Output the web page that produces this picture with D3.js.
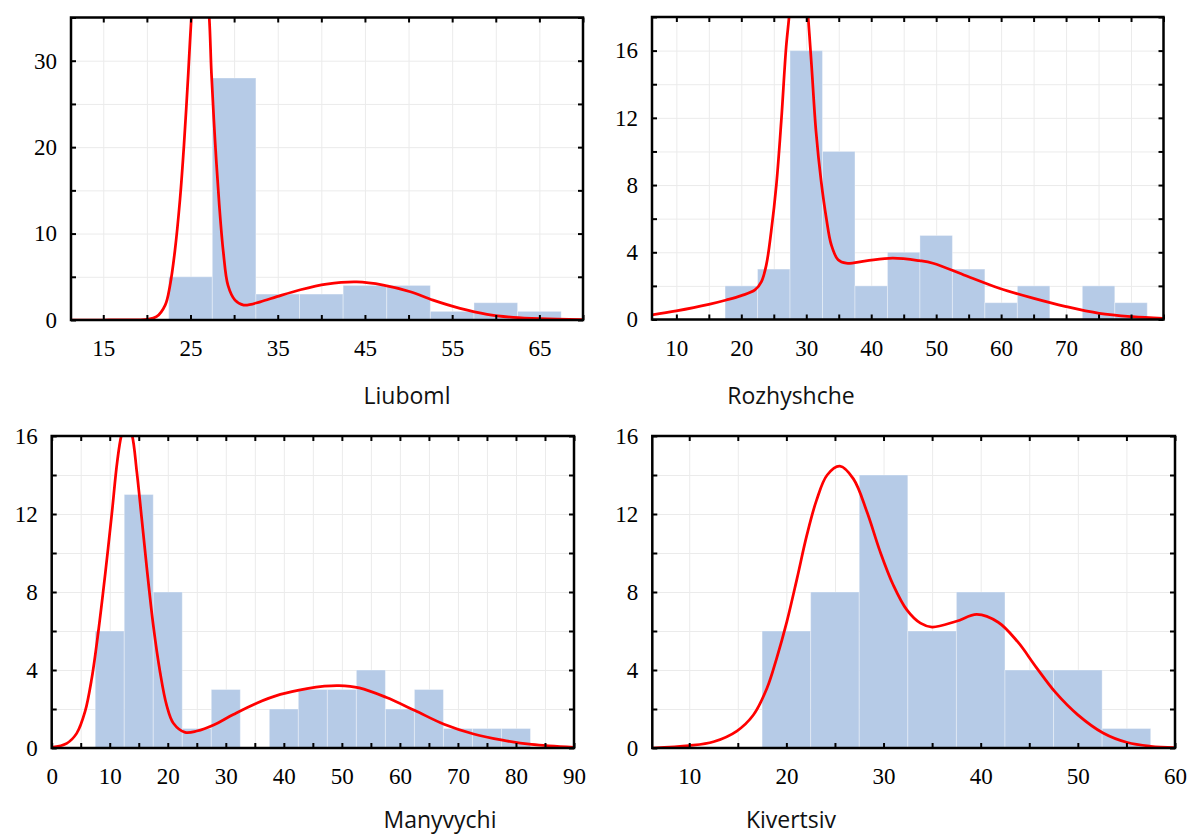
<!DOCTYPE html>
<html>
<head>
<meta charset="utf-8">
<script src="https://cdn.jsdelivr.net/npm/d3@7"></script>
<style>
  body { margin: 0; background: #fff; }
  svg { display: block; }
</style>
</head>
<body>
<div id="chart"></div>
<script>
// ---- data ----
// histogram bins (edges) and counts
const liubomlEdges = [22.5, 27.5, 32.5, 37.5, 42.5, 47.5, 52.5, 57.5, 62.5, 67.5]
const liubomlCounts = [5, 28, 3, 3, 4, 4, 1, 2, 1]
const rozhyshcheEdges = [17.5, 22.5, 27.5, 32.5, 37.5, 42.5, 47.5, 52.5, 57.5, 62.5, 67.5, 72.5, 77.5, 82.5]
const rozhyshcheCounts = [2, 3, 16, 10, 2, 4, 5, 3, 1, 2, 0, 2, 1]
const manyvychiEdges = [7.5, 12.5, 17.5, 22.5, 27.5, 32.5, 37.5, 42.5, 47.5, 52.5, 57.5, 62.5, 67.5, 72.5, 77.5, 82.5]
const manyvychiCounts = [6, 13, 8, 1, 3, 0, 2, 3, 3, 4, 2, 3, 1, 1, 1]
const kivertsivEdges = [17.5, 22.5, 27.5, 32.5, 37.5, 42.5, 47.5, 52.5, 57.5]
const kivertsivCounts = [6, 8, 14, 6, 8, 4, 4, 1]

// red density curves, [x, y] points
const liubomlCurve = [[11.3, 0], [15, 0], [19, 0.02], [20, 0.08], [21.1, 0.38], [22.1, 1.73], [22.65, 4.0],
  [23.2, 7.9], [23.8, 14], [24.25, 20.2], [24.75, 28.6], [25.1, 35], [25.6, 42], [26.1, 45], [26.6, 42],
  [27.15, 35], [27.4, 28.6], [27.8, 21], [28.3, 13.3], [28.76, 7.9], [29.3, 4.0], [30.1, 2.3], [31.1, 1.73],
  [33, 2.1], [34.9, 2.7], [37.6, 3.5], [40.6, 4.15], [44.05, 4.4], [47.1, 4.04], [50.2, 3.27], [52.8, 2.3],
  [55.9, 1.35], [59, 0.66], [62, 0.31], [65.1, 0.15], [70, 0.05]]
const rozhyshcheCurve = [[6.25, 0.27], [10, 0.51], [15, 0.9], [17.7, 1.16], [20, 1.42], [22.1, 1.76], [23.1, 2.26],
  [23.85, 3.25], [24.6, 5.24], [25.4, 8.03], [26.15, 11.8], [26.9, 16.2], [27.4, 18.2], [28, 21.5], [28.8, 23],
  [29.6, 21.5], [30.25, 18.2], [30.8, 15.2], [31.5, 11.2], [32.3, 8.2], [33.1, 6.0], [33.85, 4.45], [34.9, 3.55],
  [36.15, 3.35], [39.2, 3.49], [43.3, 3.65], [47.4, 3.5], [49.5, 3.35], [54.6, 2.6], [59.7, 1.86], [64.9, 1.27],
  [70, 0.77], [75.1, 0.37], [80.2, 0.17], [84.9, 0.07]]
const manyvychiCurve = [[0, 0.03], [2.6, 0.24], [4.3, 0.75], [5.74, 1.86], [6.9, 3.57], [8.03, 5.96], [9.2, 8.87],
  [10.34, 11.95], [11.3, 14.7], [12.07, 16.1], [12.9, 16.7], [13.8, 16.1], [14.65, 14.2], [15.5, 11.8], [16.4, 9.2],
  [17.5, 6.3], [18.67, 3.9], [19.8, 2.2], [20.97, 1.27], [23, 0.8], [25, 0.87], [27.9, 1.18], [31.3, 1.72],
  [35.3, 2.3], [39.4, 2.75], [44, 3.05], [47, 3.17], [49.5, 3.2], [53, 3.08], [57.6, 2.6], [62.6, 1.92],
  [67.6, 1.22], [72.7, 0.72], [77.7, 0.4], [82.7, 0.18], [90, 0.03]]
const kivertsivCurve = [[6.2, 0], [10, 0.12], [12.5, 0.32], [14.9, 0.87], [16.6, 1.69], [18, 3.06], [19, 4.6],
  [20.05, 6.48], [21.1, 8.7], [22.1, 10.9], [23.1, 12.7], [24.2, 14.0], [25.5, 14.45], [26.9, 13.8], [28.3, 12.1],
  [29.65, 10.07], [31, 8.36], [32.4, 7.08], [33.8, 6.4], [35, 6.2], [37.5, 6.5], [39.6, 6.85], [41.8, 6.45],
  [43.8, 5.45], [45.7, 4.15], [47.7, 2.85], [50, 1.7], [52.6, 0.77], [55.1, 0.28], [57.5, 0.09], [60, 0.02]]

// tick labels
const liubomlXLabels = [15, 25, 35, 45, 55, 65]
const liubomlYLabels = [0, 10, 20, 30]
const rozhyshcheXLabels = [10, 20, 30, 40, 50, 60, 70, 80]
const rozhyshcheYLabels = [0, 4, 8, 12, 16]
const manyvychiXLabels = [0, 10, 20, 30, 40, 50, 60, 70, 80, 90]
const manyvychiYLabels = [0, 4, 8, 12, 16]
const kivertsivXLabels = [10, 20, 30, 40, 50, 60]
const kivertsivYLabels = [0, 4, 8, 12, 16]

const width = 1191, height = 834

let svg = d3.select("#chart")
    .append("svg")
    .attr("width", width)
    .attr("height", height)

// one panel per town; layout kept here, values come from arrays above
const panels = [
    { name: "Liuboml", edges: liubomlEdges, counts: liubomlCounts, curve: liubomlCurve,
      xLabels: liubomlXLabels, yLabels: liubomlYLabels, xDom: [11.3, 70], yDom: [0, 35],
      xMinor: d3.range(15, 70.1, 5), yMinor: d3.range(0, 35.1, 5),
      left: 71, right: 583, top: 17.5, bottom: 320, titleX: 407, titleY: 404 },
    { name: "Rozhyshche", edges: rozhyshcheEdges, counts: rozhyshcheCounts, curve: rozhyshcheCurve,
      xLabels: rozhyshcheXLabels, yLabels: rozhyshcheYLabels, xDom: [6.25, 85], yDom: [0, 18],
      xMinor: d3.range(10, 85.1, 5), yMinor: d3.range(0, 18.1, 2),
      left: 652, right: 1163.5, top: 17, bottom: 319.5, titleX: 791, titleY: 404 },
    { name: "Manyvychi", edges: manyvychiEdges, counts: manyvychiCounts, curve: manyvychiCurve,
      xLabels: manyvychiXLabels, yLabels: manyvychiYLabels, xDom: [0, 90], yDom: [0, 16],
      xMinor: d3.range(0, 90.1, 5), yMinor: d3.range(0, 16.1, 2),
      left: 51.7, right: 574, top: 436, bottom: 748, titleX: 440, titleY: 828 },
    { name: "Kivertsiv", edges: kivertsivEdges, counts: kivertsivCounts, curve: kivertsivCurve,
      xLabels: kivertsivXLabels, yLabels: kivertsivYLabels, xDom: [6.2, 60], yDom: [0, 16],
      xMinor: d3.range(10, 60.1, 5), yMinor: d3.range(0, 16.1, 2),
      left: 652.3, right: 1175, top: 436, bottom: 748, titleX: 791, titleY: 828 }
]

panels.forEach((p, i) => {
    const w = p.right - p.left, h = p.bottom - p.top
    const x = d3.scaleLinear().domain(p.xDom).range([0, w])
    const y = d3.scaleLinear().domain(p.yDom).range([h, 0])

    let g = svg.append("g").attr("transform", `translate(${p.left}, ${p.top})`)

    g.append("clipPath").attr("id", "clip" + i)
        .append("rect").attr("width", w).attr("height", h)

    // light grid
    g.append("g")
        .attr("transform", `translate(0, ${h})`)
        .call(d3.axisBottom(x).tickValues(p.xMinor).tickSize(-h).tickFormat(""))
        .call(a => a.select(".domain").remove())
        .selectAll("line").attr("stroke", "#ebebeb").attr("stroke-width", 1)
    g.append("g")
        .call(d3.axisLeft(y).tickValues(p.yMinor).tickSize(-w).tickFormat(""))
        .call(a => a.select(".domain").remove())
        .selectAll("line").attr("stroke", "#ebebeb").attr("stroke-width", 1)

    // histogram bars
    const bins = p.counts.map((c, k) => ({ x0: p.edges[k], x1: p.edges[k + 1], n: c }))
    g.append("g").selectAll("rect")
        .data(bins.filter(d => d.n > 0))
        .enter()
        .append("rect")
        .attr("x", d => x(d.x0))
        .attr("width", d => x(d.x1) - x(d.x0))
        .attr("y", d => y(d.n))
        .attr("height", d => y(0) - y(d.n))
        .attr("fill", "#b6cbe7")
        .attr("stroke", "rgba(255,255,255,0.35)")
        .attr("stroke-width", 1)

    // density curve
    const line = d3.line()
        .x(d => x(d[0]))
        .y(d => y(d[1]))
        .curve(d3.curveCatmullRom.alpha(0.5))
    g.append("path")
        .datum(p.curve)
        .attr("clip-path", `url(#clip${i})`)
        .attr("d", line)
        .attr("fill", "none")
        .attr("stroke", "#ff0000")
        .attr("stroke-width", 2.75)

    // frame
    g.append("rect")
        .attr("width", w).attr("height", h)
        .attr("fill", "none")
        .attr("stroke", "#000")
        .attr("stroke-width", 2.5)

    // inward ticks on all four sides, labels only bottom and left
    const fmtX = v => p.xLabels.includes(v) ? v : ""
    const fmtY = v => p.yLabels.includes(v) ? v : ""
    let xb = g.append("g")
        .attr("transform", `translate(0, ${h})`)
        .call(d3.axisBottom(x).tickValues(p.xMinor).tickSize(-5).tickSizeOuter(0).tickPadding(20).tickFormat(fmtX))
    let yl = g.append("g")
        .call(d3.axisLeft(y).tickValues(p.yMinor).tickSize(-5).tickSizeOuter(0).tickPadding(14).tickFormat(fmtY))
    let xt = g.append("g")
        .call(d3.axisTop(x).tickValues(p.xMinor).tickSize(-5).tickSizeOuter(0).tickFormat(""))
    let yr = g.append("g")
        .attr("transform", `translate(${w}, 0)`)
        .call(d3.axisRight(y).tickValues(p.yMinor).tickSize(-5).tickSizeOuter(0).tickFormat(""))
    ;[xb, yl, xt, yr].forEach(a => {
        a.select(".domain").remove()
        a.selectAll("line").attr("stroke", "#000").attr("stroke-width", 2)
        a.selectAll("text")
            .attr("fill", "#000")
            .style("font-family", "'Liberation Serif', 'Times New Roman', serif")
            .style("font-size", "23px")
    })

    // town name under each panel
    svg.append("text")
        .attr("x", p.titleX)
        .attr("y", p.titleY)
        .attr("text-anchor", "middle")
        .style("font-family", "'Open Sans', sans-serif")
        .style("font-size", "23px")
        .attr("fill", "#111")
        .text(p.name)
})
</script>
</body>
</html>
